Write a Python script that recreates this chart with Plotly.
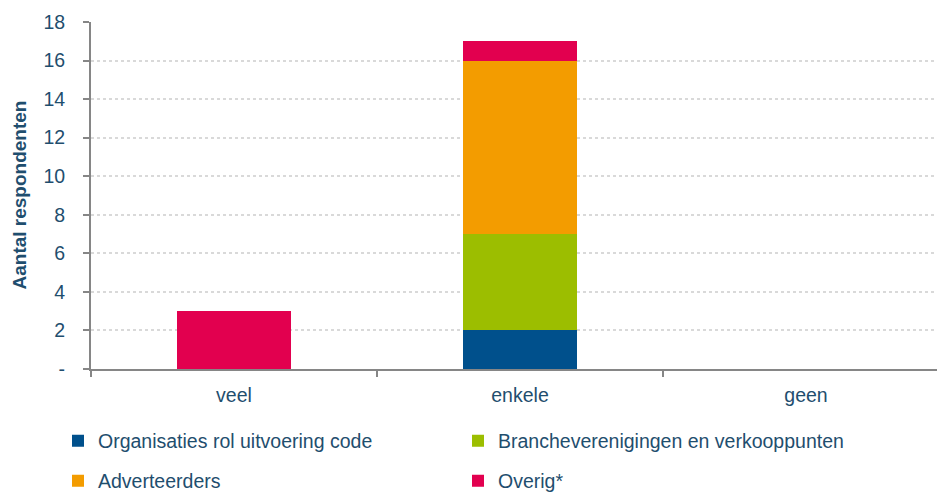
import plotly.graph_objects as go

categories = ["veel", "enkele", "geen"]
org = [0, 2, 0]
branche = [0, 5, 0]
advert = [0, 9, 0]
overig = [3, 1, 0]
series_names = ["Organisaties rol uitvoering code", "Brancheverenigingen en verkooppunten",
                "Adverteerders", "Overig*"]
colors = ["#00508C", "#9CBE00", "#F39C00", "#E2004F"]
ytick_vals = [0, 2, 4, 6, 8, 10, 12, 14, 16, 18]
ytick_text = ["-", "2", "4", "6", "8", "10", "12", "14", "16", "18"]
y_title = "Aantal respondenten"

txt = "#1F4E6E"
fam = "Liberation Sans, Arial, sans-serif"
font = dict(family=fam, size=19.5, color=txt)

fig = go.Figure()
for name, vals, col, lg in zip(series_names, [org, branche, advert, overig], colors,
                               ["legend", "legend", "legend2", "legend2"]):
    fig.add_trace(go.Bar(x=categories, y=vals, name=name, marker=dict(color=col, line=dict(width=0)),
                         legend=lg))

leg_common = dict(orientation="h", xanchor="left", yanchor="middle", font=font,
                  entrywidth=355, entrywidthmode="pixels", bgcolor="rgba(0,0,0,0)",
                  traceorder="normal", itemwidth=30)

W, Hfig = 960, 492
L, R, T, B = 91, 11, 22, 123
PW = W - L - R
PH = Hfig - T - B
fig.update_layout(
    barmode="stack",
    bargap=0.6,
    width=W, height=Hfig,
    margin=dict(l=L, r=R, t=T, b=B, autoexpand=False),
    paper_bgcolor="white", plot_bgcolor="white",
    font=font,
    legend=dict(x=-33 / PW, y=-(441 - 369) / PH, **leg_common),
    legend2=dict(x=-33 / PW, y=-(481 - 369) / PH, **leg_common),
    xaxis=dict(showline=True, linecolor="#868686", linewidth=2, ticks="outside",
               tickson="boundaries", ticklen=6, tickcolor="#868686", tickwidth=2,
               tickfont=font, showgrid=False, ticklabelstandoff=8),
    yaxis=dict(range=[0, 18], tickvals=ytick_vals, ticktext=ytick_text,
               showline=True, linecolor="#868686", linewidth=2, ticks="outside",
               ticklen=6, tickcolor="#868686", tickwidth=2, tickfont=font,
               ticklabelstandoff=14,
               showgrid=True, gridcolor="#D9D9D9", gridwidth=1.5, griddash="dot", zeroline=False),
    annotations=[dict(text="<b>" + y_title + "</b>", textangle=-90, xref="paper", yref="paper",
                      x=(19 - L) / PW, y=0.5, xanchor="center", yanchor="middle", showarrow=False,
                      font=dict(family=fam, size=19, color=txt))],
)

fig.write_html("out.html", config={"displayModeBar": False},
               post_script="document.body.style.margin='0';document.body.style.overflow='hidden';"
                           "document.documentElement.style.overflow='hidden';")
